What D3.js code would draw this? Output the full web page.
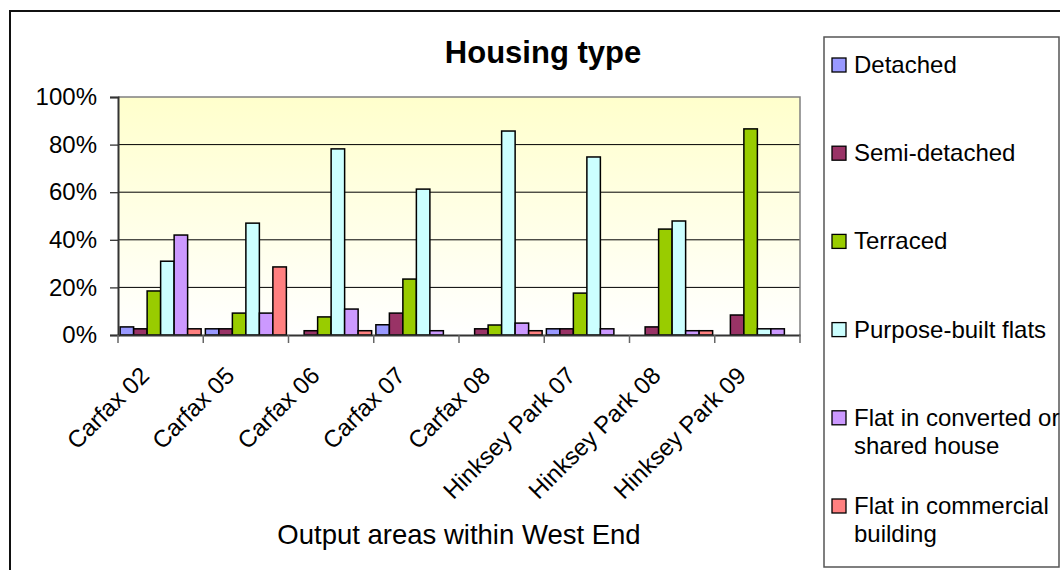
<!DOCTYPE html>
<html>
<head>
<meta charset="utf-8">
<script src="https://cdn.jsdelivr.net/npm/d3@7"></script>
<style>
  html, body { margin: 0; padding: 0; background: #fff; }
  svg { display: block; font-family: "Liberation Sans", Arial, sans-serif; }
</style>
</head>
<body>
<svg id="chart" width="1060" height="570"></svg>
<script>
// ---- data (percent) ----
const categories = ["Carfax 02", "Carfax 05", "Carfax 06", "Carfax 07", "Carfax 08", "Hinksey Park 07", "Hinksey Park 08", "Hinksey Park 09"];
const seriesNames = ["Detached", "Semi-detached", "Terraced", "Purpose-built flats", "Flat in converted or\nshared house", "Flat in commercial\nbuilding"];
const detached   = [3.4, 2.6, 0, 4.3, 0, 2.6, 0, 0];
const semiDetached = [2.6, 2.6, 1.8, 9.2, 2.6, 2.6, 3.4, 8.4];
const terraced   = [18.5, 9.2, 7.6, 23.5, 4.2, 17.6, 44.5, 86.6];
const purposeBuiltFlats = [31, 47, 78.2, 61.3, 85.7, 74.8, 47.9, 2.6];
const convertedFlat = [42, 9.2, 10.9, 1.8, 5, 2.6, 1.8, 2.6];
const commercialFlat = [2.6, 28.6, 1.8, 0, 1.8, 0, 1.8, 0];
const yTicks = [0, 20, 40, 60, 80, 100];
const seriesColors = ["#9999FF", "#993366", "#99CC00", "#CCFFFF", "#CC99FF", "#FF8080"];

const seriesValues = [detached, semiDetached, terraced, purposeBuiltFlats, convertedFlat, commercialFlat];

// ---- layout ----
const svg = d3.select("#chart");
const plot = { left: 118, right: 800, top: 97, bottom: 335 };

// outer chart border
svg.append("rect")
  .attr("x", 10).attr("y", 11).attr("width", 1070).attr("height", 580)
  .attr("fill", "#fff").attr("stroke", "#111").attr("stroke-width", 2);

// gradient
const defs = svg.append("defs");
const grad = defs.append("linearGradient").attr("id", "bg").attr("x1", 0).attr("y1", 0).attr("x2", 0).attr("y2", 1);
grad.append("stop").attr("offset", "0%").attr("stop-color", "#FFFFCC");
grad.append("stop").attr("offset", "100%").attr("stop-color", "#FFFFFF");

const x0 = d3.scaleBand().domain(categories).range([plot.left, plot.right]).paddingInner(0).paddingOuter(0);
const gap = 4.25;
const x1 = d3.scaleBand().domain(d3.range(seriesNames.length)).range([gap / 2, x0.bandwidth() - gap / 2]).padding(0);
const y = d3.scaleLinear().domain([0, 100]).range([plot.bottom, plot.top]);

// plot background
svg.append("rect")
  .attr("x", plot.left).attr("y", plot.top)
  .attr("width", plot.right - plot.left).attr("height", plot.bottom - plot.top)
  .attr("fill", "url(#bg)");

// gridlines
svg.append("g").selectAll("line")
  .data(yTicks.filter(t => t > 0 && t < 100))
  .join("line")
  .attr("x1", plot.left).attr("x2", plot.right)
  .attr("y1", d => y(d)).attr("y2", d => y(d))
  .attr("stroke", "#000").attr("stroke-width", 1);

// top & right border (grey)
svg.append("path")
  .attr("d", `M${plot.left},${y(100)}H${plot.right}V${plot.bottom}`)
  .attr("fill", "none").attr("stroke", "#808080").attr("stroke-width", 1.5);

// bars
const bars = svg.append("g");
seriesValues.forEach((vals, si) => {
  bars.append("g").selectAll("rect")
    .data(vals.map((v, ci) => ({ v, c: categories[ci] })).filter(d => d.v > 0))
    .join("rect")
    .attr("x", d => x0(d.c) + x1(si))
    .attr("y", d => y(d.v))
    .attr("width", x1.bandwidth())
    .attr("height", d => y(0) - y(d.v))
    .attr("fill", seriesColors[si])
    .attr("stroke", "#000").attr("stroke-width", 1.5);
});

// y axis
const yAxis = d3.axisLeft(y).tickValues(yTicks).tickSize(8).tickFormat(d => d + "%");
const yg = svg.append("g").attr("transform", `translate(${plot.left},0)`).call(yAxis);
yg.select(".domain").attr("stroke", "#333").attr("stroke-width", 2);
yg.selectAll(".tick line").attr("stroke", "#333").attr("stroke-width", 1.3);
yg.selectAll(".tick text")
  .attr("x", -21).attr("font-size", 24).attr("fill", "#000")
  .attr("font-family", "Liberation Sans, Arial, sans-serif");

// x axis
const xAxis = d3.axisBottom(x0).tickSize(0).tickFormat("");
const xg = svg.append("g").attr("transform", `translate(0,${plot.bottom})`).call(xAxis);
xg.select(".domain").attr("stroke", "#333").attr("stroke-width", 2);
// category boundary ticks
const bounds = categories.map(c => x0(c)).concat([plot.right]);
svg.append("g").selectAll("line").data(bounds).join("line")
  .attr("x1", d => d).attr("x2", d => d)
  .attr("y1", plot.bottom).attr("y2", plot.bottom + 8)
  .attr("stroke", "#666").attr("stroke-width", 1.5);
// rotated labels
svg.append("g").selectAll("text").data(categories).join("text")
  .attr("transform", d => `translate(${x0(d) + x0.bandwidth() / 2 - 10},${plot.bottom + 42}) rotate(-45)`)
  .attr("text-anchor", "end")
  .attr("font-size", 24)
  .attr("fill", "#000")
  .text(d => d);

// title
svg.append("text")
  .attr("x", 543).attr("y", 63)
  .attr("text-anchor", "middle")
  .attr("font-size", 31).attr("font-weight", "bold")
  .text("Housing type");

// x axis title
svg.append("text")
  .attr("x", 459).attr("y", 544)
  .attr("text-anchor", "middle")
  .attr("font-size", 27.5)
  .text("Output areas within West End");

// legend
const legend = svg.append("g");
legend.append("rect")
  .attr("x", 824).attr("y", 37).attr("width", 235).attr("height", 530)
  .attr("fill", "#fff").attr("stroke", "#555").attr("stroke-width", 1.5);
const step = 88.2;
const items = legend.selectAll("g.item").data(seriesNames).join("g")
  .attr("class", "item")
  .attr("transform", (d, i) => `translate(832,${65 + i * step})`);
items.append("rect")
  .attr("x", 0).attr("y", -7).attr("width", 14).attr("height", 14)
  .attr("fill", (d, i) => seriesColors[i])
  .attr("stroke", "#000").attr("stroke-width", 1.3);
items.append("text")
  .attr("x", 22).attr("y", 8)
  .attr("font-size", 24)
  .selectAll("tspan")
  .data(d => d.split("\n"))
  .join("tspan")
  .attr("x", 22)
  .attr("dy", (d, i) => i === 0 ? 0 : 28)
  .text(d => d);
</script>
</body>
</html>
